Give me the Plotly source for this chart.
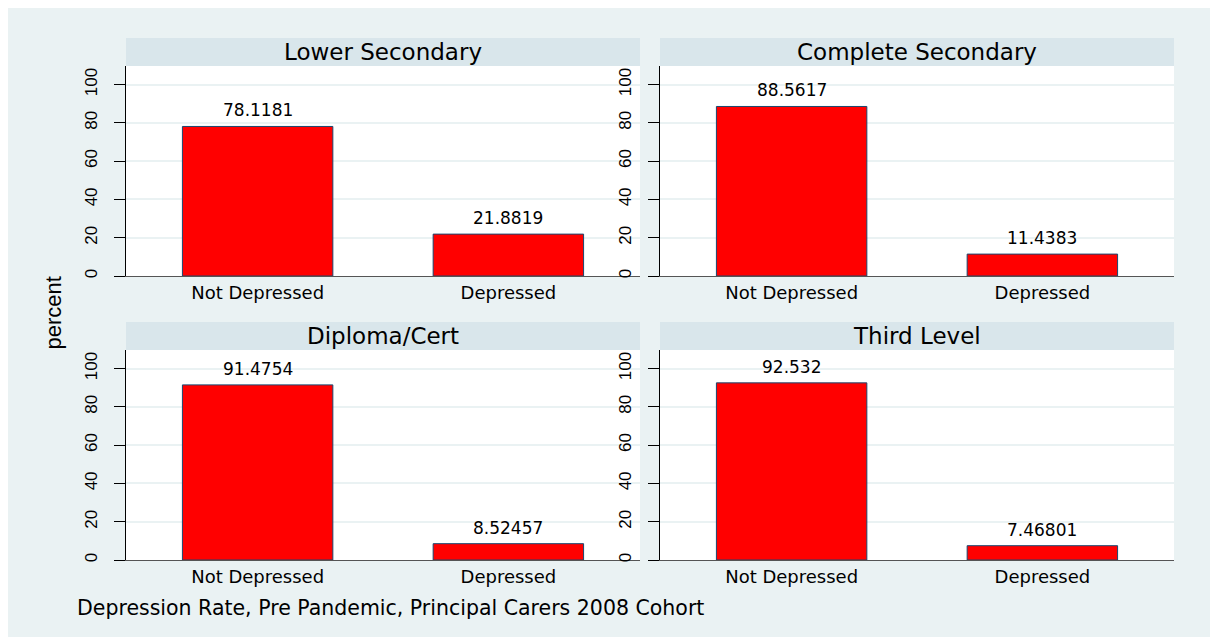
import plotly.graph_objects as go

# ---------------- data ----------------
groups = ["Lower Secondary", "Complete Secondary", "Diploma/Cert", "Third Level"]
categories = ["Not Depressed", "Depressed"]
not_depressed = [78.1181, 88.5617, 91.4754, 92.532]
depressed = [21.8819, 11.4383, 8.52457, 7.46801]
y_ticks = [0, 20, 40, 60, 80, 100]
y_title = "percent"
caption = "Depression Rate, Pre Pandemic, Principal Carers 2008 Cohort"

# ---------------- style ----------------
OFF = 8  # page body margin offset
W, H = 1210, 637
ML, MR, MT, MB = 126 - OFF, 44, 38 - OFF, 637 - (560 - OFF)
PW, PH = W - ML - MR, H - MT - MB

BG = "#EAF2F3"
HEADER = "#D9E6EB"
GRID = "#EAF2F3"
BAR = "#FF0000"
BAR_LINE = "#1A476F"
HFONT = "DejaVu Sans"
VFONT = "Liberation Sans, Arial"


def px_x(x):  # screen px -> paper
    return (x - OFF - ML) / PW


def px_y(y):
    return (H - MB - (y - OFF)) / PH


# panel geometry in screen pixels
cols = [(126, 640), (660, 1174)]
rows = [(38, 66, 276), (322, 350, 560)]  # header top, plot top, plot bottom

fig = go.Figure()
layout = dict(
    width=W, height=H,
    margin=dict(l=ML, r=MR, t=MT, b=MB, pad=0),
    paper_bgcolor=BG, plot_bgcolor="white",
    showlegend=False,
    font=dict(family=HFONT, color="black"),
    shapes=[], annotations=[],
)

for i, g in enumerate(groups):
    r, c = divmod(i, 2)
    x0, x1 = cols[c]
    ht, pt, pb = rows[r]
    suf = "" if i == 0 else str(i + 1)
    xa, ya = "x" + suf, "y" + suf
    vals = [not_depressed[i], depressed[i]]
    fig.add_trace(go.Bar(
        x=categories, y=vals, xaxis=xa, yaxis=ya, width=0.6,
        marker=dict(color=BAR, line=dict(color=BAR_LINE, width=1)),
        hoverinfo="x+y",
    ))
    layout["xaxis" + suf] = dict(
        domain=[px_x(x0), px_x(x1)], anchor=ya,
        type="category", range=[-0.525, 1.525],
        showline=True, linecolor="#555555", linewidth=1.3,
        ticks="", showgrid=False,
        tickfont=dict(family=HFONT, size=18, color="black"),
        fixedrange=True,
    )
    layout["yaxis" + suf] = dict(
        domain=[px_y(pb), px_y(pt)], anchor=xa,
        range=[0, 109.7], tickvals=y_ticks,
        showline=True, linecolor="black", linewidth=1.3,
        ticks="outside", ticklen=11, tickcolor="black", tickwidth=1.3,
        tickangle=-90, tickfont=dict(family=VFONT, size=17, color="black"),
        ticklabelstandoff=10,
        showgrid=True, gridcolor=GRID, gridwidth=1.5,
        zeroline=False, fixedrange=True,
    )
    # header strip
    layout["shapes"].append(dict(
        type="rect", xref="paper", yref="paper",
        x0=px_x(x0), x1=px_x(x1), y0=px_y(pt), y1=px_y(ht),
        fillcolor=HEADER, line=dict(width=0), layer="below",
    ))
    layout["annotations"].append(dict(
        xref="paper", yref="paper", x=px_x((x0 + x1) / 2), y=px_y((ht + pt) / 2),
        text=g, showarrow=False, xanchor="center", yanchor="middle",
        font=dict(family=HFONT, size=23, color="black"),
    ))
    # value labels
    for cat, v in zip(categories, vals):
        layout["annotations"].append(dict(
            xref=xa, yref=ya, x=cat, y=v, text=str(v), showarrow=False,
            xanchor="center", yanchor="middle", yshift=16,
            font=dict(family=HFONT, size=17, color="black"),
        ))

# y title
layout["annotations"].append(dict(
    xref="paper", yref="paper", x=px_x(53), y=px_y(313.5), text=y_title,
    showarrow=False, textangle=-90, xanchor="center", yanchor="middle",
    font=dict(family=VFONT, size=22, color="black"),
))
# caption
layout["annotations"].append(dict(
    xref="paper", yref="paper", x=px_x(75), y=px_y(608), text=caption,
    showarrow=False, xanchor="left", yanchor="middle",
    font=dict(family=HFONT, size=20.5, color="black"),
))

fig.update_layout(**layout)

# page background: white top/left margin strips, chart background elsewhere
page_bg = (
    "document.documentElement.style.background="
    "'linear-gradient(#ffffff,#ffffff) top left/100% 8px no-repeat,"
    " linear-gradient(#ffffff,#ffffff) top left/8px 100% no-repeat, " + BG + "';"
    "document.body.style.background='transparent';"
)
fig.write_html("out.html", post_script=page_bg)
